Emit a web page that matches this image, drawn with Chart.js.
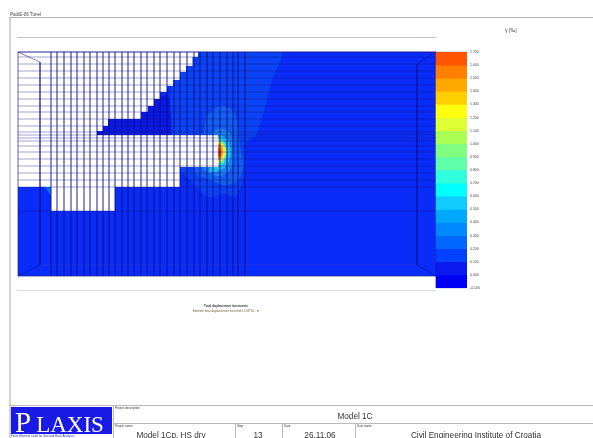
<!DOCTYPE html>
<html><head><meta charset="utf-8">
<script src="https://cdn.jsdelivr.net/npm/chart.js@4/dist/chart.umd.js"></script>
<style>
html,body{margin:0;padding:0;background:#fff;overflow:hidden}
#w{position:relative;width:593px;height:438px;overflow:hidden;filter:blur(.6px);font-family:"Liberation Sans",sans-serif;color:#333}
#w div{position:absolute;white-space:nowrap}
canvas{position:absolute;left:0;top:0}
.c{transform:translateX(-50%)}
.t{font-size:8.2px;line-height:10px}
.s{font-size:3px;line-height:3px;color:#333}
</style></head><body><div id="w">
<canvas id="c" width="593" height="438"></canvas>
<div style="left:9px;top:17px;width:2px;height:421px;background:#d4d4d4"></div>
<div style="left:9px;top:17px;width:584px;height:1px;background:#b4b4b4"></div>
<div style="left:17px;top:37px;width:419px;height:1px;background:#c4c4d0"></div>
<div style="left:17px;top:290px;width:419px;height:1px;background:#dcdce8"></div>
<div style="left:10px;top:13px;font-size:4.5px;line-height:4px;color:#444;background:#fff">Pad/E-06 Tunel</div>
<div style="left:505px;top:28px;font-size:5px;line-height:5px;color:#444">γ [‰]</div>
<div class="c" style="left:226px;top:305px;font-size:3px;line-height:3px;color:#333;font-weight:bold">Total displacement increments</div>
<div class="c" style="left:226px;top:310px;font-size:3px;line-height:3px;color:#76603a">Extreme total displacement increment 1.69*10⁻³ m</div>
<div style="left:9px;top:405px;width:584px;height:1px;background:#bbb"></div>
<div style="left:113px;top:405px;width:1px;height:33px;background:#bbb"></div>
<div style="left:113px;top:423px;width:480px;height:1px;background:#bbb"></div>
<div style="left:235px;top:423px;width:1px;height:15px;background:#bbb"></div>
<div style="left:282px;top:423px;width:1px;height:15px;background:#bbb"></div>
<div style="left:355px;top:423px;width:1px;height:15px;background:#bbb"></div>
<div style="left:11px;top:407px;width:101px;height:27px;background:#1a1ae6;color:#fff;font-family:'Liberation Serif',serif;font-size:23px;line-height:30px;padding-left:4px;box-sizing:border-box"><span style="font-size:29px;margin-right:5px">P</span>LAXIS</div>
<div style="left:11px;top:435px;font-size:3px;line-height:3px;color:#3040c0">Finite Element Code for Soil and Rock Analyses</div>
<div class="s" style="left:115px;top:407px">Project description</div>
<div class="s" style="left:115px;top:425px">Project name</div>
<div class="s" style="left:237px;top:425px">Step</div>
<div class="s" style="left:284px;top:425px">Date</div>
<div class="s" style="left:357px;top:425px">User name</div>
<div class="t c" style="left:355px;top:412px">Model 1C</div>
<div class="t c" style="left:171px;top:431px">Model 1Cp, HS dry</div>
<div class="t c" style="left:258px;top:431px">13</div>
<div class="t c" style="left:320px;top:431px">26.11.06</div>
<div class="t c" style="left:476px;top:431px">Civil Engineering Institute of Croatia</div>
</div>
<script>
// Colour-scale values (shear strain legend)
const legendTicks = [-0.1,0,0.1,0.2,0.3,0.4,0.5,0.6,0.7,0.8,0.9,1.0,1.1,1.2,1.3,1.4,1.5,1.6,1.7];
const legendColors = ['#0000f5','#0a1aee','#0040ff','#0068ff','#0088ff','#00a8ff','#10ccff','#00ffff','#30ffdd','#60ffaa','#80ff80','#aaff55','#ddff33','#ffff10','#ffd000','#ffa800','#ff7f00','#ff5500'];
const legendTop = [0,0.1,0.2,0.3,0.4,0.5,0.6,0.7,0.8,0.9,1.0,1.1,1.2,1.3,1.4,1.5,1.6,1.7];
const legendX = [451.5];
const legendEdges = [436,467];

// Mesh lines
const meshX = [51,57,64,71,77,84,90,97,103,109,115,122,128,134,141,147,154,160,167,174,180,187,194,200,207,213,220,227,233,238,245];
const meshY = [52,57,64,71,78,85,92,99,106,112,119,126,132,135,138,141,146,152,159,166,173,180,187,211];
const modelLeft = [18], modelRight = [436], modelTop = [52], modelBottom = [276];
const innerX = [40, 417], innerTop = [62, 64], innerBottom = [265, 265];

// Contour outlines
const baseRegion = [[18,52],[436,52],[436,276],[18,276]];
const slabRegion = [[95,135],[170,135],[173,119],[168,95],[150,100],[108,119]];
const band1 = [[175,52],[281,52],[272,80],[265,107],[256,135],[246,143],[245,165],[243,178],[236,196],[222,194],[208,197],[190,180],[176,165],[172,135],[170,100]];
const band2 = [[220,105],[232,110],[238,125],[240,145],[243,165],[238,180],[225,185],[210,180],[195,172],[200,150],[204,130],[207,115]];
const band3 = [[220,128],[230,133],[233,150],[231,168],[220,176],[207,172],[203,168],[210,150],[213,132]];
const band4 = [[220,134],[228,141],[231,152],[227,165],[218,171],[209,171],[215,160],[215,140]];
const band5 = [[218,137],[225,143],[228,152],[224,162],[218,167],[213,167]];
const band6 = [[217,139],[224,145],[226,152],[223,160],[217,164]];
const band7 = [[217,142],[222,147],[223,153],[221,158],[217,161]];
const band8 = [[217,146],[220,149],[221,153],[219,157],[217,158]];
const cornerPatch = [[45,187],[51,187],[51,196]];
const unmeshedVoid = [[18,52],[198,52],[198,57],[192.5,57],[192.5,66],[186,66],[186,72],[180,72],[180,80],[173,80],[173,86],[167,86],[167,92],[160,92],[160,99],[154,99],[154,106],[148,106],[148,112],[141,112],[141,119],[108,119],[108,126],[103,126],[103,131],[97,131],[97,135],[218,135],[218,167],[180,167],[180,187],[115,187],[115,211],[51,211],[51,187],[18,187]];

const toPts = a => a.map(p => ({x:p[0], y:p[1]}));
const region = (pts, color, tension) => ({type:'scatter', showLine:true, data:toPts(pts), backgroundColor:color,
  borderColor:color, borderWidth:0, pointRadius:0, tension:tension||0, fill:{target:'shape'}, clip:false, xAxisID:'x', yAxisID:'y'});
const line = (pts, color, w, yAxis) => ({type:'scatter', showLine:true, data:toPts(pts), borderColor:color, borderWidth:w||1,
  pointRadius:0, fill:false, clip:false, xAxisID:'x', yAxisID:yAxis||'y'});

const meshColor = 'rgba(15,15,130,.42)';
const layers = [
  region(baseRegion,'#0a2cf8'),
  region(slabRegion,'#0a18e4',0.1),
  region(band1,'#0a44f6',0.25),
  region(band2,'#1260f2',0.35),
  region(band3,'#1a84f0',0.35),
  region(band4,'#20bcf0',0.35),
  region(band5,'#50f0c0',0.35),
  region(band6,'#e8f050',0.35),
  region(band7,'#ff9a00',0.35),
  region(band8,'#f04010',0.35),
  region(cornerPatch,'#0a70f0'),
  region(unmeshedVoid,'#ffffff'),
];
meshX.forEach(x => layers.push(line([[x,modelTop[0]],[x,modelBottom[0]]],meshColor,0.9)));
meshY.forEach(y => layers.push(line([[modelLeft[0],y],[modelRight[0],y]],meshColor,0.9)));
innerX.forEach((x,i) => {
  layers.push(line([[x,innerTop[i]],[x,innerBottom[i]]],'rgba(15,15,130,.6)',0.9));
  const edge = i ? modelRight[0] : modelLeft[0];
  layers.push(line([[edge,modelTop[0]],[x,innerTop[i]]],'rgba(15,15,130,.6)',0.9));
  layers.push(line([[edge,modelBottom[0]],[x,innerBottom[i]]],'rgba(15,15,130,.6)',0.9));
});
layers.push(line([[innerX[0],innerBottom[0]],[innerX[1],innerBottom[1]]],'rgba(70,70,190,.35)'));
layers.push(line([[modelLeft[0],modelTop[0]],[modelRight[0],modelTop[0]],[modelRight[0],modelBottom[0]],[modelLeft[0],modelBottom[0]],[modelLeft[0],modelTop[0]]],'rgba(30,30,150,.7)'));
legendTicks.forEach(v => layers.push(line([[legendEdges[0],v],[legendEdges[1],v]],'rgba(20,60,60,.28)',1,'yb')));

const bars = legendColors.map((color,i) => ({type:'bar', label:'band'+i,
  data:[{x:legendX[0], y:[legendTicks[i], legendTop[i]]}],
  backgroundColor:color, borderWidth:0,
  barThickness:31, grouped:false, xAxisID:'x', yAxisID:'yb'}));

const datasets = layers.concat(bars);
datasets.forEach((d,i) => d.order = datasets.length - i);

new Chart(document.getElementById('c'), {
  data:{datasets},
  options:{
    responsive:false, animation:false, devicePixelRatio:1,
    layout:{padding:{left:18, top:52, right:0, bottom:150}},
    plugins:{legend:{display:false}, tooltip:{enabled:false}},
    scales:{
      x:{type:'linear', min:18, max:467, display:false, offset:false},
      y:{type:'linear', min:52, max:288, reverse:true, display:false},
      yb:{type:'linear', position:'right', min:-0.1, max:1.7,
        afterFit:s => { s.width = 126; },
        afterBuildTicks:s => { s.ticks = legendTicks.map(v => ({value:v})); },
        grid:{display:false, drawTicks:false}, border:{display:false},
        ticks:{color:'#444', padding:3, font:{size:3.5, family:'"Liberation Sans"'}, callback:v => v.toFixed(3), autoSkip:false, maxRotation:0, align:'center', crossAlign:'near'}}
    }
  }
});
</script></body></html>
